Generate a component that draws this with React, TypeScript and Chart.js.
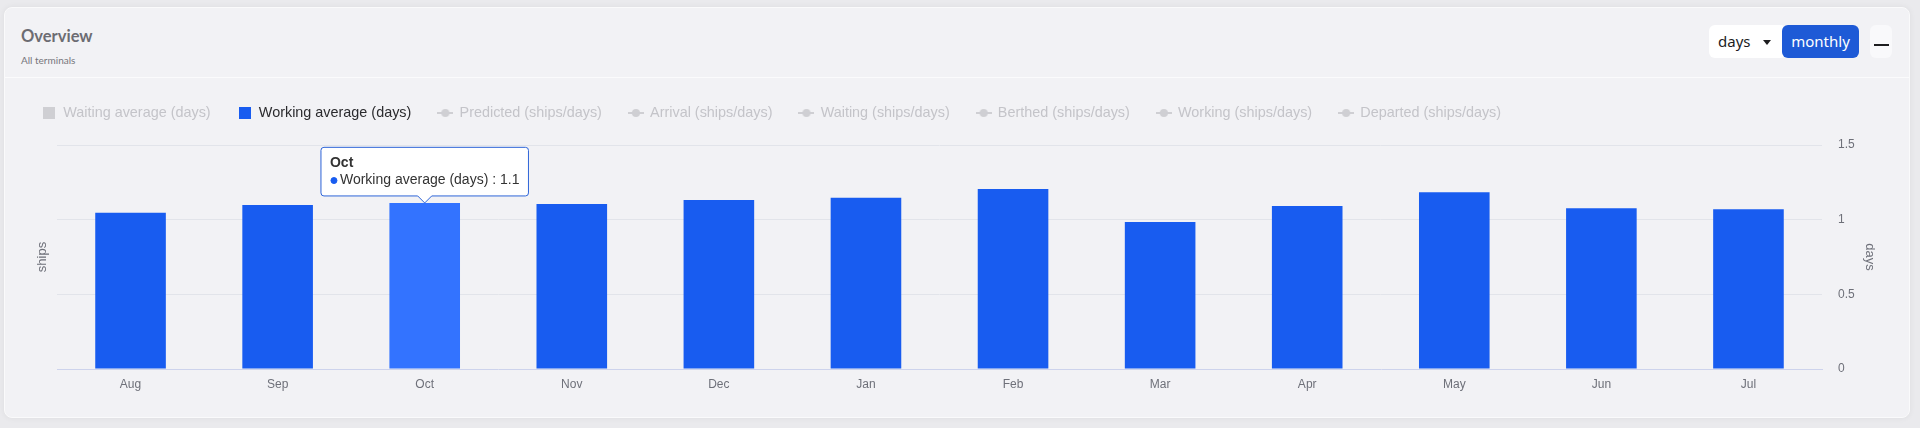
import React, { useEffect, useRef } from 'react';
import { Chart, registerables, layouts } from 'chart.js';

Chart.register(...registerables);

// ---------------- data ----------------
const months = ['Aug', 'Sep', 'Oct', 'Nov', 'Dec', 'Jan', 'Feb', 'Mar', 'Apr', 'May', 'Jun', 'Jul'];
const workingAverageDays = [1.047, 1.098, 1.112, 1.105, 1.132, 1.147, 1.206, 0.985, 1.092, 1.183, 1.076, 1.07];
const waitingAverageDays: number[] = [];
const lineSeriesNames = [
  'Predicted (ships/days)',
  'Arrival (ships/days)',
  'Waiting (ships/days)',
  'Berthed (ships/days)',
  'Working (ships/days)',
  'Departed (ships/days)',
];
const lineSeriesValues: number[][] = [[], [], [], [], [], []];
const daysTicks = [0, 0.5, 1, 1.5];
const activeIndex = 2;

// ---------------- styles ----------------
const BLUE = '#185cf0';
const BLUE_HOVER = '#3373ff';
const GRAY_MARK = '#cfcfd3';
const GRAY_TEXT = '#c4c4c9';
const AXIS_TEXT = '#6e7079';
const FONT = "'Liberation Sans', Arial, sans-serif";
const LEGEND_GAP = 14.8;

function squareMarker(color: string) {
  const c = document.createElement('canvas');
  c.width = 12;
  c.height = 12;
  const g = c.getContext('2d')!;
  g.fillStyle = color;
  g.fillRect(0, 0, 12, 12);
  return c;
}

function lineDotMarker(color: string) {
  const c = document.createElement('canvas');
  c.width = 16;
  c.height = 10;
  const g = c.getContext('2d')!;
  g.strokeStyle = color;
  g.fillStyle = color;
  g.lineWidth = 2;
  g.beginPath();
  g.moveTo(0, 5);
  g.lineTo(16, 5);
  g.stroke();
  g.beginPath();
  g.arc(8, 5, 4, 0, Math.PI * 2);
  g.fill();
  return c;
}

const legendGapPlugin = {
  id: 'legendGap',
  beforeInit(chart: any) {
    const box: any = {
      position: 'top',
      weight: 500,
      fullSize: true,
      options: { stackWeight: 1 },
      width: 0,
      height: 0,
      left: 0,
      top: 0,
      right: 0,
      bottom: 0,
      isHorizontal: () => true,
      update(maxWidth: number) {
        box.width = maxWidth;
        box.height = LEGEND_GAP;
        return box.height;
      },
      draw() {},
    };
    layouts.addBox(chart, box);
  },
};

export default function App() {
  const ref = useRef<HTMLCanvasElement>(null);

  useEffect(() => {
    document.body.style.margin = '0';
    document.body.style.background = '#eaeaed';
    const canvas = ref.current!;

    const datasets: any[] = [
      {
        type: 'bar',
        label: 'Waiting average (days)',
        data: waitingAverageDays,
        backgroundColor: GRAY_MARK,
        yAxisID: 'y1',
        hidden: true,
        barPercentage: 0.6,
        categoryPercentage: 0.8,
      },
      {
        type: 'bar',
        label: 'Working average (days)',
        data: workingAverageDays,
        backgroundColor: BLUE,
        hoverBackgroundColor: BLUE_HOVER,
        borderWidth: 0,
        yAxisID: 'y1',
        barPercentage: 0.6,
        categoryPercentage: 0.8,
      },
      ...lineSeriesNames.map((name, i) => ({
        type: 'line',
        label: name,
        data: lineSeriesValues[i],
        borderColor: GRAY_MARK,
        backgroundColor: GRAY_MARK,
        yAxisID: 'y',
        hidden: true,
      })),
    ];

    const markers = datasets.map((_, i) =>
      i === 0 ? squareMarker(GRAY_MARK) : i === 1 ? squareMarker(BLUE) : lineDotMarker(GRAY_MARK)
    );

    let chart: any = null;
    try {
      chart = new Chart(canvas, {
        type: 'bar',
        data: { labels: months, datasets },
        plugins: [legendGapPlugin],
        options: {
          responsive: false,
          animation: false,
          events: [],
          layout: { padding: { left: 15, right: 0, top: 78.8, bottom: 0 } },
          plugins: {
            legend: {
              display: true,
              position: 'top',
              align: 'start',
              onClick: () => {},
              labels: {
                usePointStyle: true,
                pointStyleWidth: 14,
                padding: 27,
                font: { family: FONT, size: 14.4 },
                generateLabels: (ch: any) =>
                  ch.data.datasets.map((ds: any, i: number) => ({
                    text: ds.label,
                    datasetIndex: i,
                    hidden: false,
                    fontColor: i === 1 ? '#2b2b2e' : GRAY_TEXT,
                    fillStyle: i === 1 ? BLUE : GRAY_MARK,
                    strokeStyle: i === 1 ? BLUE : GRAY_MARK,
                    lineWidth: 0,
                    pointStyle: markers[i],
                    rotation: 0,
                  })),
              },
            },
            title: { display: false },
            tooltip: {
              enabled: true,
              backgroundColor: 'rgba(255,255,255,0.98)',
              borderColor: '#2d64d8',
              borderWidth: 1,
              cornerRadius: 3,
              titleColor: '#333333',
              bodyColor: '#333333',
              titleFont: { family: FONT, size: 14, weight: 'bold' },
              bodyFont: { family: FONT, size: 14 },
              titleMarginBottom: 1,
              padding: { top: 7, bottom: 7, left: 9, right: 9 },
              caretSize: 7,
              caretPadding: 0,
              xAlign: 'center',
              yAlign: 'bottom',
              displayColors: true,
              usePointStyle: true,
              boxWidth: 8,
              boxHeight: 6,
              callbacks: {
                title: (items: any[]) => items[0].label,
                label: (c: any) => `${c.dataset.label} : ${c.parsed.y.toFixed(1)}`,
                labelColor: () => ({ borderColor: BLUE, backgroundColor: BLUE, borderWidth: 0 }),
                labelPointStyle: () => ({ pointStyle: 'circle', rotation: 0 }),
              },
            },
          },
          scales: {
            x: {
              type: 'category',
              position: 'bottom',
              grid: { display: false, drawTicks: false },
              border: { display: true, color: '#cdd3ec', width: 1 },
              ticks: { color: AXIS_TEXT, font: { family: FONT, size: 12 }, padding: 8 },
              afterFit: (s: any) => {
                s.height = 59;
              },
            },
            y: {
              type: 'linear',
              position: 'left',
              min: 0,
              max: 1,
              grid: { display: false, drawTicks: false },
              border: { display: false },
              ticks: { display: false },
              title: {
                display: true,
                text: 'ships',
                color: AXIS_TEXT,
                font: { family: FONT, size: 13 },
                padding: { top: 19.2, bottom: 0 },
              },
              afterFit: (s: any) => {
                s.width = 42;
              },
            },
            y1: {
              type: 'linear',
              position: 'right',
              min: 0,
              max: 1.5,
              afterBuildTicks: (s: any) => {
                s.ticks = daysTicks.map((v) => ({ value: v }));
              },
              grid: {
                display: true,
                drawTicks: false,
                color: (c: any) => (c.tick && c.tick.value === 0 ? 'rgba(0,0,0,0)' : '#e2e4ea'),
              },
              border: { display: false },
              ticks: {
                color: AXIS_TEXT,
                font: { family: FONT, size: 12 },
                padding: 16,
                callback: (v: any) => String(v),
              },
              title: {
                display: true,
                text: 'days',
                color: AXIS_TEXT,
                font: { family: FONT, size: 13 },
                padding: { top: 42.2, bottom: 0 },
              },
              afterFit: (s: any) => {
                s.width = 98;
              },
            },
          },
        } as any,
      });

      const active = [{ datasetIndex: 1, index: activeIndex }];
      chart.setActiveElements(active);
      chart.tooltip.setActiveElements(active, { x: 0, y: 0 });
      chart.update();
    } catch (e) {
      console.error(e);
    }

    return () => {
      if (chart) chart.destroy();
    };
  }, []);

  return (
    <div
      style={{
        position: 'relative',
        width: 1920,
        height: 428,
        background: '#eaeaed',
        overflow: 'hidden',
      }}
    >
      <div
        style={{
          position: 'absolute',
          left: 4,
          top: 7,
          width: 1906,
          height: 411,
          background: '#f2f2f5',
          borderRadius: 8,
          border: '1px solid #fafafb',
          boxSizing: 'border-box',
          boxShadow: '0 0 6px rgba(0,0,0,0.06)',
        }}
      />
      <div style={{ position: 'absolute', left: 5, top: 77, width: 1904, height: 1, background: '#fbfbfc' }} />
      <div
        style={{
          position: 'absolute',
          left: 21,
          top: 26,
          lineHeight: '20px',
          fontSize: 16.5,
          fontWeight: 700,
          color: '#6c6c72',
          fontFamily: "Lato, 'Noto Sans', sans-serif",
        }}
      >
        Overview
      </div>
      <div
        style={{
          position: 'absolute',
          left: 21,
          top: 54,
          lineHeight: '12px',
          fontSize: 10,
          color: '#76767c',
          fontFamily: "Lato, 'Noto Sans', sans-serif",
        }}
      >
        All terminals
      </div>
      {/* controls */}
      <div
        style={{
          position: 'absolute',
          left: 1709,
          top: 25,
          width: 78,
          height: 33,
          background: '#ffffff',
          borderRadius: 6,
        }}
      />
      <div
        style={{
          position: 'absolute',
          left: 1718,
          top: 25,
          height: 33,
          lineHeight: '33px',
          fontSize: 15,
          color: '#1d1d1f',
          fontFamily: "'Noto Sans', sans-serif",
        }}
      >
        days
      </div>
      <div
        style={{
          position: 'absolute',
          left: 1763,
          top: 40,
          width: 0,
          height: 0,
          borderLeft: '4px solid transparent',
          borderRight: '4px solid transparent',
          borderTop: '5px solid #1d1d1f',
        }}
      />
      <div
        style={{
          position: 'absolute',
          left: 1782,
          top: 25,
          width: 77,
          height: 33,
          background: '#1e5ad6',
          borderRadius: 6,
          color: '#ffffff',
          fontSize: 15,
          lineHeight: '33px',
          textAlign: 'center',
          fontFamily: "'Noto Sans', sans-serif",
        }}
      >
        monthly
      </div>
      <div
        style={{
          position: 'absolute',
          left: 1870,
          top: 25,
          width: 22,
          height: 33,
          background: '#f9f9fb',
          borderRadius: 6,
        }}
      />
      <div style={{ position: 'absolute', left: 1874, top: 44, width: 15, height: 2, background: '#1d1d1f' }} />
      <canvas
        ref={ref}
        width={1920}
        height={428}
        style={{ position: 'absolute', left: 0, top: 0, width: 1920, height: 428, pointerEvents: 'none' }}
      />
    </div>
  );
}
